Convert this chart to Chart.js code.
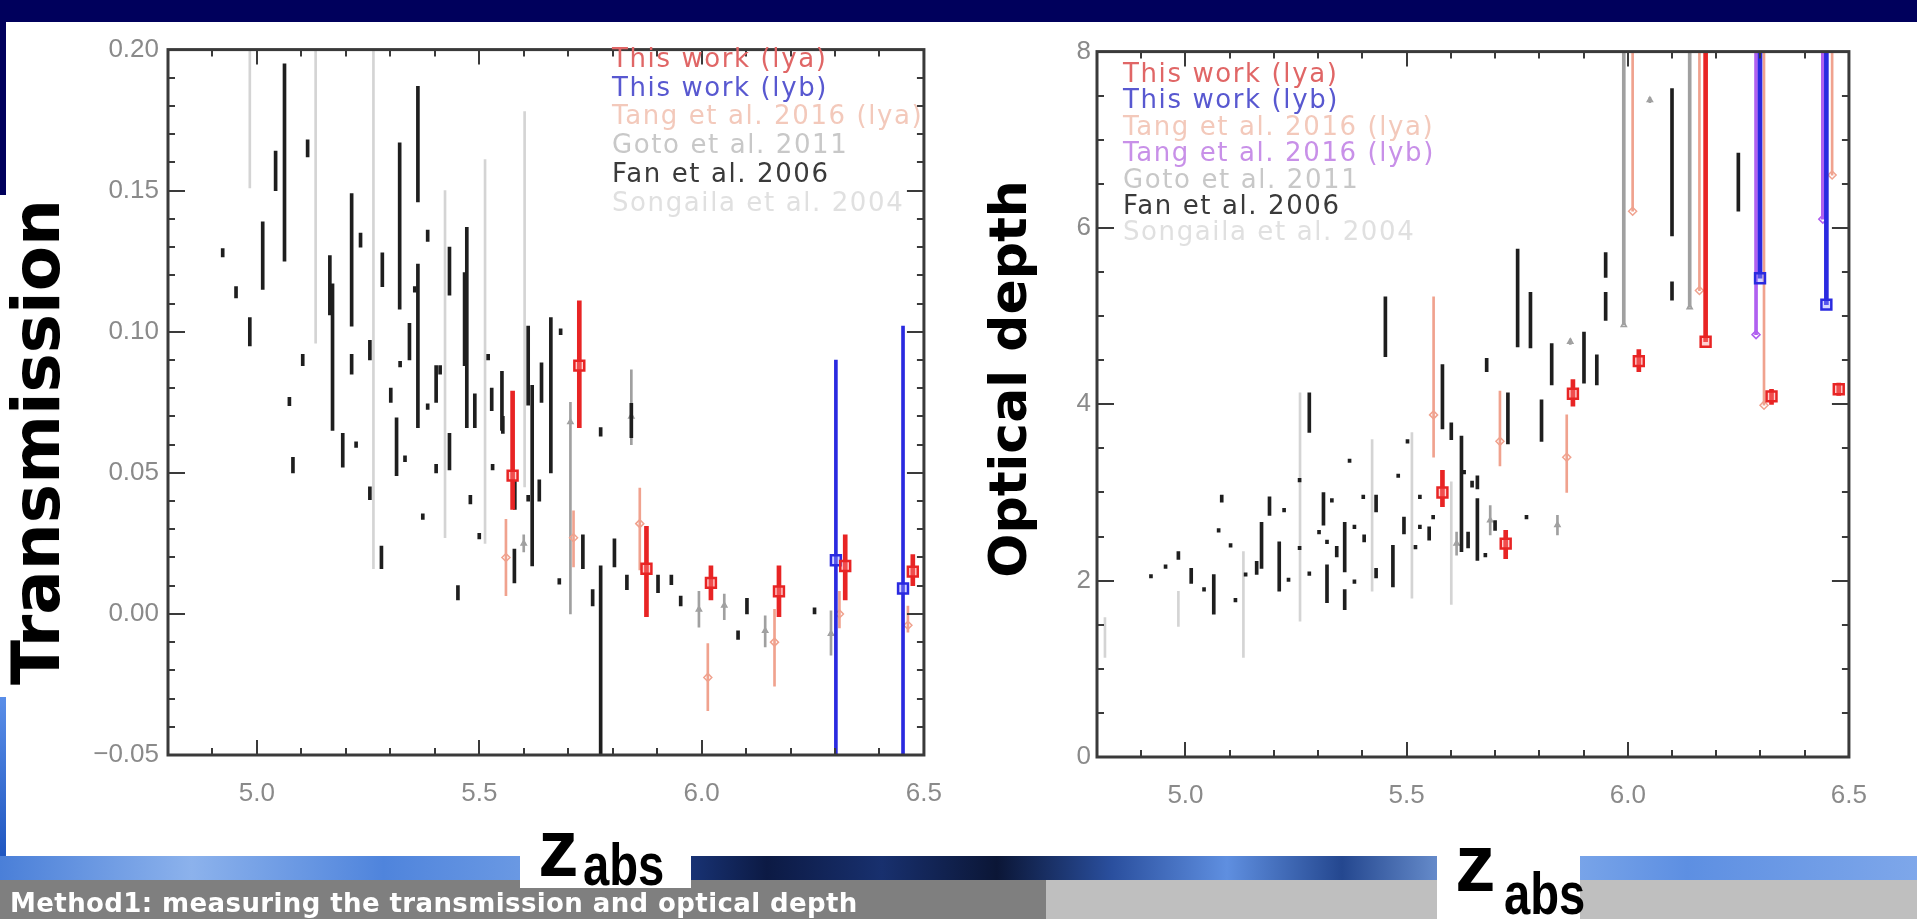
<!DOCTYPE html>
<html>
<head>
<meta charset="utf-8">
<script src="https://cdn.jsdelivr.net/npm/chart.js@4.4.1/dist/chart.umd.min.js"></script>
<style>
  html, body { margin: 0; padding: 0; width: 1917px; height: 919px; overflow: hidden; background: #fff; }
  body { position: relative; font-family: "DejaVu Sans", sans-serif; }
  .abs { position: absolute; }
  #topbar { left: 0; top: 0; width: 1917px; height: 22px; background: #00005c; }
  #leftbar { left: 0; top: 0; width: 6px; height: 195px; background: #00005c; }
  #leftblue { left: 0; top: 697px; width: 6px; height: 160px; background: linear-gradient(#5a8ee8, #1f56c0); }
  #sky { left: 0; top: 856px; width: 1917px; height: 25px;
    background: linear-gradient(90deg, #4a7fd8 0%, #8cb2ec 10%, #4f84dc 20%, #6d9be4 28%, #1e3f8c 34%, #0c1a44 40%, #18306e 46%, #0b1636 52%, #2a4f9e 58%, #5f8fe0 64%, #24478f 70%, #8db4ee 78%, #5d8fe2 88%, #7ea7ea 100%); }
  #footL { left: 0; top: 880px; width: 1046px; height: 39px; background: #7f7f7f; }
  #footR { left: 1046px; top: 880px; width: 871px; height: 39px; background: #bfbfbf; }
  #foottext { left: 10px; top: 888px; color: #fff; font: bold 26px "DejaVu Sans", sans-serif; letter-spacing: 0.4px; white-space: nowrap; line-height: 30px; z-index: 5; }
  canvas { position: absolute; }
  .ytitle { position: absolute; white-space: nowrap; font-weight: bold; color: #000; line-height: 1; transform: translate(-50%, -50%) rotate(-90deg); }
  .leg { position: absolute; font-size: 26px; letter-spacing: 1.6px; white-space: nowrap; }
  .zbox { position: absolute; background: #fff; }
  .zz { position: absolute; font: bold 81px "Liberation Sans", Arial, sans-serif; line-height: 1; color: #000; }
  .zs { position: absolute; font: bold 59px "Liberation Sans", Arial, sans-serif; line-height: 1; color: #000; transform: scaleX(0.8); transform-origin: left top; }
</style>
</head>
<body>
<div id="topbar" class="abs"></div>
<div id="leftbar" class="abs"></div>
<div id="leftblue" class="abs"></div>
<div id="sky" class="abs"></div>
<div id="footL" class="abs"></div>
<div id="footR" class="abs"></div>

<canvas id="transChart" width="905" height="790" style="left:60px; top:25px;"></canvas>
<canvas id="odChart" width="833" height="787" style="left:1057px; top:30px;"></canvas>

<div class="ytitle" style="left:37px; top:442px; font-size:66px;">Transmission</div>
<div class="ytitle" style="left:1008px; top:379px; font-size:52px;">Optical depth</div>

<div class="leg" style="left:612px; top:44px; line-height:28.7px;">
  <div style="color:#e06666">This work (lya)</div>
  <div style="color:#5858d0">This work (lyb)</div>
  <div style="color:#f3c9bb">Tang et al. 2016 (lya)</div>
  <div style="color:#c8c8c8">Goto et al. 2011</div>
  <div style="color:#3a3a3a">Fan et al. 2006</div>
  <div style="color:#e0e0e0">Songaila et al. 2004</div>
</div>
<div class="leg" style="left:1123px; top:60px; line-height:26.4px;">
  <div style="color:#e06666">This work (lya)</div>
  <div style="color:#5858d0">This work (lyb)</div>
  <div style="color:#f3c9bb">Tang et al. 2016 (lya)</div>
  <div style="color:#c890e8">Tang et al. 2016 (lyb)</div>
  <div style="color:#c8c8c8">Goto et al. 2011</div>
  <div style="color:#3a3a3a">Fan et al. 2006</div>
  <div style="color:#e0e0e0">Songaila et al. 2004</div>
</div>

<div class="zbox" style="left:520px; top:827px; width:171px; height:61px;"></div>
<div class="zz" style="left:538px; top:808px;">z</div>
<div class="zs" style="left:583px; top:836px;">abs</div>
<div class="zbox" style="left:1437px; top:844px; width:143px; height:75px;"></div>
<div class="zz" style="left:1455px; top:823px;">z</div>
<div class="zs" style="left:1504px; top:865px;">abs</div>

<div id="foottext" class="abs">Method1: measuring the transmission and optical depth</div>

<script>
// axis ticks
const zTicks = [5.0, 5.5, 6.0, 6.5];
const zLabels = ["5.0", "5.5", "6.0", "6.5"];
const transTicks = [-0.05, 0.0, 0.05, 0.10, 0.15, 0.20];
const transLabels = ["\u22120.05", "0.00", "0.05", "0.10", "0.15", "0.20"];
const odTicks = [0, 2, 4, 6, 8];
const odLabels = ["0", "2", "4", "6", "8"];

// ---- transmission panel: [z, value, low, high] or [z, low, high]
const transThisLya = [
  [5.575, 0.049, 0.037, 0.079], [5.725, 0.088, 0.066, 0.111], [5.876, 0.016, -0.001, 0.031],
  [6.021, 0.011, 0.005, 0.017], [6.174, 0.008, -0.001, 0.017], [6.323, 0.017, 0.005, 0.028],
  [6.475, 0.015, 0.010, 0.021]
];
const transThisLyb = [[6.302, 0.019, -0.07, 0.090], [6.453, 0.009, -0.07, 0.102]];
const transTang = [
  [5.560, 0.020, 0.0065, 0.0335], [5.712, 0.027, 0.0167, 0.0365], [5.861, 0.032, 0.0156, 0.0446],
  [6.014, -0.0225, -0.0343, -0.0105], [6.164, -0.010, -0.0256, 0.0016], [6.310, 0.0, -0.005, 0.008],
  [6.464, -0.004, -0.0065, 0.0028]
];
const transGoto = [
  [5.600, 0.025, 0.022, 0.028], [5.705, 0.068, 0.0, 0.075], [5.842, 0.070, 0.060, 0.0865],
  [5.994, 0.0016, -0.0047, 0.008], [6.051, 0.003, -0.002, 0.007], [6.143, -0.006, -0.0117, -0.0007],
  [6.291, -0.007, -0.0146, 0.0011]
];
const transSongaila = [
  [4.984, 0.151, 0.25], [5.132, 0.096, 0.25], [5.262, 0.016, 0.25],
  [5.423, 0.027, 0.150], [5.513, 0.025, 0.161], [5.602, 0.045, 0.178]
];
const transFan = [
  [4.923, 0.1265, 0.1295], [4.953, 0.112, 0.116], [4.984, 0.095, 0.105], [5.013, 0.115, 0.139],
  [5.042, 0.150, 0.164], [5.062, 0.125, 0.195], [5.073, 0.0738, 0.0768], [5.081, 0.050, 0.0555],
  [5.103, 0.088, 0.092], [5.114, 0.162, 0.168], [5.164, 0.106, 0.127], [5.170, 0.065, 0.117],
  [5.193, 0.052, 0.064], [5.213, 0.102, 0.149], [5.213, 0.085, 0.092], [5.223, 0.059, 0.061],
  [5.233, 0.130, 0.135], [5.254, 0.090, 0.097], [5.254, 0.0405, 0.045], [5.280, 0.016, 0.024],
  [5.282, 0.116, 0.128], [5.301, 0.075, 0.080], [5.314, 0.049, 0.0695], [5.321, 0.108, 0.167],
  [5.322, 0.0875, 0.0895], [5.333, 0.054, 0.056], [5.343, 0.090, 0.103], [5.362, 0.146, 0.187],
  [5.362, 0.066, 0.124], [5.355, 0.114, 0.116], [5.373, 0.0335, 0.0355], [5.384, 0.132, 0.136],
  [5.384, 0.0725, 0.0745], [5.403, 0.075, 0.088], [5.403, 0.050, 0.053], [5.412, 0.085, 0.088],
  [5.433, 0.113, 0.130], [5.433, 0.051, 0.064], [5.452, 0.005, 0.010], [5.467, 0.088, 0.121],
  [5.472, 0.066, 0.137], [5.480, 0.039, 0.042], [5.490, 0.066, 0.078], [5.500, 0.0266, 0.0286],
  [5.520, 0.090, 0.092], [5.528, 0.072, 0.080], [5.530, 0.051, 0.053], [5.551, 0.065, 0.086],
  [5.553, 0.064, 0.070], [5.579, 0.011, 0.023], [5.580, 0.037, 0.047], [5.610, 0.074, 0.102],
  [5.610, 0.040, 0.042], [5.619, 0.017, 0.081], [5.635, 0.040, 0.0475], [5.640, 0.075, 0.089],
  [5.661, 0.050, 0.105], [5.680, 0.0105, 0.0125], [5.683, 0.099, 0.101], [5.733, 0.016, 0.028],
  [5.755, 0.0028, 0.0086], [5.773, -0.07, 0.017], [5.773, 0.063, 0.066], [5.804, 0.0167, 0.0266],
  [5.832, 0.0086, 0.0138], [5.842, 0.0625, 0.0746], [5.902, 0.0075, 0.0138], [5.932, 0.0104, 0.0138],
  [5.953, 0.0028, 0.0063], [6.082, -0.009, -0.006], [6.102, 0.0, 0.0055], [6.254, 0.0, 0.0022]
];

// ---- optical depth panel
const odThisLya = [
  [5.581, 3.00, 2.84, 3.25], [5.724, 2.42, 2.25, 2.57], [5.876, 4.12, 3.98, 4.28],
  [6.025, 4.49, 4.37, 4.62], [6.325, 4.09, 4.00, 4.17], [6.477, 4.17, 4.10, 4.24]
];
const odThisLyaLimit = [[6.176, 4.71]];
const odThisLybLimit = [[6.299, 5.43], [6.449, 5.13]];
const odTangLya = [[5.561, 3.88, 3.40, 5.22], [5.711, 3.58, 3.30, 4.15], [5.862, 3.40, 3.00, 3.88]];
const odTangLyaLimit = [[6.011, 6.19], [6.162, 5.29], [6.308, 3.99], [6.462, 6.60]];
const odTangLybLimit = [[6.290, 4.79], [6.441, 6.10]];
const odGoto = [
  [5.613, 2.42, 2.29, 2.55], [5.689, 2.685, 2.52, 2.85], [5.841, 2.63, 2.52, 2.74],
  [5.870, 4.71, 4.68, 4.74], [6.050, 7.45, 7.42, 7.48]
];
const odGotoLimit = [[5.991, 4.90], [6.140, 5.10]];
const odSongaila = [
  [4.818, 1.13, 1.58], [4.984, 1.48, 1.88], [5.131, 1.13, 2.33], [5.259, 1.54, 4.13],
  [5.422, 1.88, 3.60], [5.512, 1.80, 3.68], [5.601, 1.73, 3.12]
];
const odFan = [
  [4.922, 2.03, 2.07], [4.955, 2.14, 2.18], [4.984, 2.24, 2.33], [5.013, 1.97, 2.14],
  [5.042, 1.88, 1.92], [5.064, 1.62, 2.07], [5.075, 2.55, 2.59], [5.082, 2.89, 2.97],
  [5.102, 2.38, 2.42], [5.113, 1.76, 1.80], [5.136, 2.05, 2.09], [5.161, 2.07, 2.22],
  [5.172, 2.14, 2.66], [5.190, 2.74, 2.95], [5.212, 1.88, 2.44], [5.223, 2.78, 2.82],
  [5.233, 1.99, 2.03], [5.258, 3.12, 3.16], [5.258, 2.35, 2.39], [5.280, 3.68, 4.13],
  [5.280, 2.06, 2.10], [5.302, 2.53, 2.57], [5.312, 2.63, 3.00], [5.320, 2.42, 2.46],
  [5.320, 1.75, 2.18], [5.331, 2.89, 2.93], [5.342, 2.27, 2.39], [5.360, 2.10, 2.66],
  [5.360, 1.67, 1.90], [5.371, 3.34, 3.38], [5.382, 2.59, 2.63], [5.382, 1.97, 2.01],
  [5.402, 2.93, 2.97], [5.404, 2.44, 2.52], [5.431, 2.78, 2.97], [5.431, 2.03, 2.14],
  [5.452, 4.54, 5.22], [5.469, 1.93, 2.40], [5.481, 3.17, 3.21], [5.494, 2.53, 2.72],
  [5.502, 3.56, 3.60], [5.530, 2.93, 2.97], [5.530, 2.59, 2.63], [5.520, 2.36, 2.40],
  [5.551, 2.46, 2.61], [5.560, 2.70, 2.74], [5.581, 3.72, 4.45], [5.601, 3.60, 3.79],
  [5.624, 2.33, 3.64], [5.630, 3.21, 3.25], [5.639, 2.37, 2.55], [5.648, 3.06, 3.13],
  [5.660, 3.04, 3.19], [5.660, 2.23, 2.93], [5.678, 2.27, 2.31], [5.681, 4.37, 4.52],
  [5.700, 2.57, 2.68], [5.729, 3.55, 4.13], [5.751, 4.65, 5.76], [5.771, 2.70, 2.74],
  [5.780, 4.64, 5.27], [5.805, 3.58, 4.05], [5.828, 4.22, 4.69], [5.901, 4.24, 4.82],
  [5.930, 4.22, 4.56], [5.950, 5.44, 5.72], [5.950, 4.95, 5.27], [6.100, 5.91, 7.58],
  [6.100, 5.18, 5.39], [6.250, 6.19, 6.85]
];

const RED = "#e82424", BLUE = "#2a2ae0", SALMON = "#f0a28e", PURPLE = "#b060f0";
const GOTO = "#a0a0a0", FAN = "#1e1e1e", SONG = "#d4d4d4";

function bars(rows, lo, hi, color, w) {
  return {
    type: "bar",
    data: rows.map(r => ({ x: r[0], y: [r[lo], r[hi]] })),
    backgroundColor: color,
    barThickness: w,
    minBarLength: 3,
    grouped: false,
    clip: 0
  };
}

function limits(rows, top, color, w) {
  return bars(rows.map(r => [r[0], r[1], top]), 1, 2, color, w);
}

function marks(rows, color, style, radius, bw, fill) {
  return {
    type: "scatter",
    data: rows.map(r => ({ x: r[0], y: r[1] })),
    pointStyle: style,
    pointRadius: radius,
    borderColor: color,
    borderWidth: bw,
    backgroundColor: fill,
    clip: 0
  };
}

// IDL style box with inward ticks on all four sides
const frameTicks = {
  id: "frameTicks",
  afterDatasetsDraw(chart, args, o) {
    const { ctx, chartArea: a, scales: { x, y } } = chart;
    const isMajor = (list, v) => list.some(m => Math.abs(m - v) < 1e-6);
    ctx.save();
    ctx.strokeStyle = "#3a3a3a";
    ctx.lineWidth = 2;
    ctx.beginPath();
    const nx = Math.round((x.max - x.min) / o.xMinor);
    for (let k = 0; k <= nx; k++) {
      const v = x.min + k * o.xMinor;
      const len = isMajor(o.xMajor, v) ? 15 : 7;
      const px = Math.round(x.getPixelForValue(v));
      ctx.moveTo(px, a.bottom); ctx.lineTo(px, a.bottom - len);
      ctx.moveTo(px, a.top); ctx.lineTo(px, a.top + len);
    }
    const ny = Math.round((y.max - y.min) / o.yMinor);
    for (let k = 0; k <= ny; k++) {
      const v = y.min + k * o.yMinor;
      const len = isMajor(o.yMajor, v) ? 17 : 7;
      const py = Math.round(y.getPixelForValue(v));
      ctx.moveTo(a.left, py); ctx.lineTo(a.left + len, py);
      ctx.moveTo(a.right, py); ctx.lineTo(a.right - len, py);
    }
    ctx.stroke();
    ctx.lineWidth = 3;
    ctx.strokeRect(a.left, a.top, a.right - a.left, a.bottom - a.top);
    ctx.restore();
  }
};

function makeChart(id, datasets, c) {
  return new Chart(document.getElementById(id), {
    type: "bar",
    data: { datasets: datasets },
    plugins: [frameTicks],
    options: {
      responsive: false,
      animation: false,
      events: [],
      layout: { padding: c.pad },
      plugins: {
        legend: { display: false },
        tooltip: { enabled: false },
        frameTicks: { xMinor: 0.1, xMajor: zTicks, yMinor: c.yMinor, yMajor: c.yTicks }
      },
      scales: {
        x: {
          type: "linear",
          min: 4.8,
          max: 6.5,
          offset: false,
          grid: { display: false, drawTicks: false },
          border: { display: false },
          afterBuildTicks: s => { s.ticks = zTicks.map(v => ({ value: v })); },
          afterFit: s => { s.height = 60; },
          ticks: {
            color: "#8a8a8a",
            font: { family: "Liberation Sans", size: 26 },
            padding: 23,
            maxRotation: 0,
            autoSkip: false,
            callback: (v, i) => zLabels[i]
          }
        },
        y: {
          type: "linear",
          min: c.yTicks[0],
          max: c.yTicks[c.yTicks.length - 1],
          grid: { display: false, drawTicks: false },
          border: { display: false },
          afterBuildTicks: s => { s.ticks = c.yTicks.map(v => ({ value: v })); },
          afterFit: s => { s.width = c.yWidth; },
          ticks: {
            color: "#8a8a8a",
            font: { family: "Liberation Sans", size: 26 },
            padding: c.yPad,
            autoSkip: false,
            callback: (v, i) => c.yLabels[i]
          }
        }
      }
    }
  });
}

makeChart("transChart", [
  marks(transThisLya, RED, "rect", 7, 2.5, "rgba(255,140,140,0.4)"),
  marks(transThisLyb, BLUE, "rect", 7, 2.5, "rgba(150,150,255,0.4)"),
  bars(transThisLya, 2, 3, RED, 4),
  bars(transThisLyb, 2, 3, BLUE, 3),
  marks(transTang, SALMON, "rectRot", 4, 1.5, "rgba(0,0,0,0)"),
  bars(transTang, 2, 3, SALMON, 2),
  bars(transFan, 1, 2, FAN, 3),
  marks(transGoto, GOTO, "triangle", 3, 1.5, "rgba(0,0,0,0)"),
  bars(transGoto, 2, 3, GOTO, 2),
  bars(transSongaila, 1, 2, SONG, 2)
], {
  pad: { top: 12, right: 10, left: 0, bottom: 0 },
  yTicks: transTicks, yLabels: transLabels, yMinor: 0.01, yWidth: 108, yPad: 9
});

makeChart("odChart", [
  marks(odThisLya, RED, "rect", 7, 2.5, "rgba(255,140,140,0.4)"),
  marks(odThisLyaLimit, RED, "rect", 7, 2.5, "rgba(255,140,140,0.4)"),
  marks(odThisLybLimit, BLUE, "rect", 7, 2.5, "rgba(150,150,255,0.4)"),
  bars(odThisLya, 2, 3, RED, 4),
  limits(odThisLyaLimit, odTicks[odTicks.length - 1], RED, 4),
  limits(odThisLybLimit, odTicks[odTicks.length - 1], BLUE, 4),
  marks(odTangLybLimit, PURPLE, "rectRot", 4, 1.5, "rgba(0,0,0,0)"),
  limits(odTangLybLimit, odTicks[odTicks.length - 1], PURPLE, 3),
  marks(odTangLya, SALMON, "rectRot", 4, 1.5, "rgba(0,0,0,0)"),
  marks(odTangLyaLimit, SALMON, "rectRot", 4, 1.5, "rgba(0,0,0,0)"),
  bars(odTangLya, 2, 3, SALMON, 2),
  limits(odTangLyaLimit, odTicks[odTicks.length - 1], SALMON, 2),
  bars(odFan, 1, 2, FAN, 3),
  marks(odGoto, GOTO, "triangle", 3, 1.5, "rgba(0,0,0,0)"),
  marks(odGotoLimit, GOTO, "triangle", 3, 1.5, "rgba(0,0,0,0)"),
  bars(odGoto, 2, 3, GOTO, 2),
  limits(odGotoLimit, odTicks[odTicks.length - 1], GOTO, 3),
  bars(odSongaila, 1, 2, SONG, 2)
], {
  pad: { top: 16, right: 10, left: 0, bottom: 0 },
  yTicks: odTicks, yLabels: odLabels, yMinor: 0.5, yWidth: 40, yPad: 6
});
</script>
</body>
</html>
